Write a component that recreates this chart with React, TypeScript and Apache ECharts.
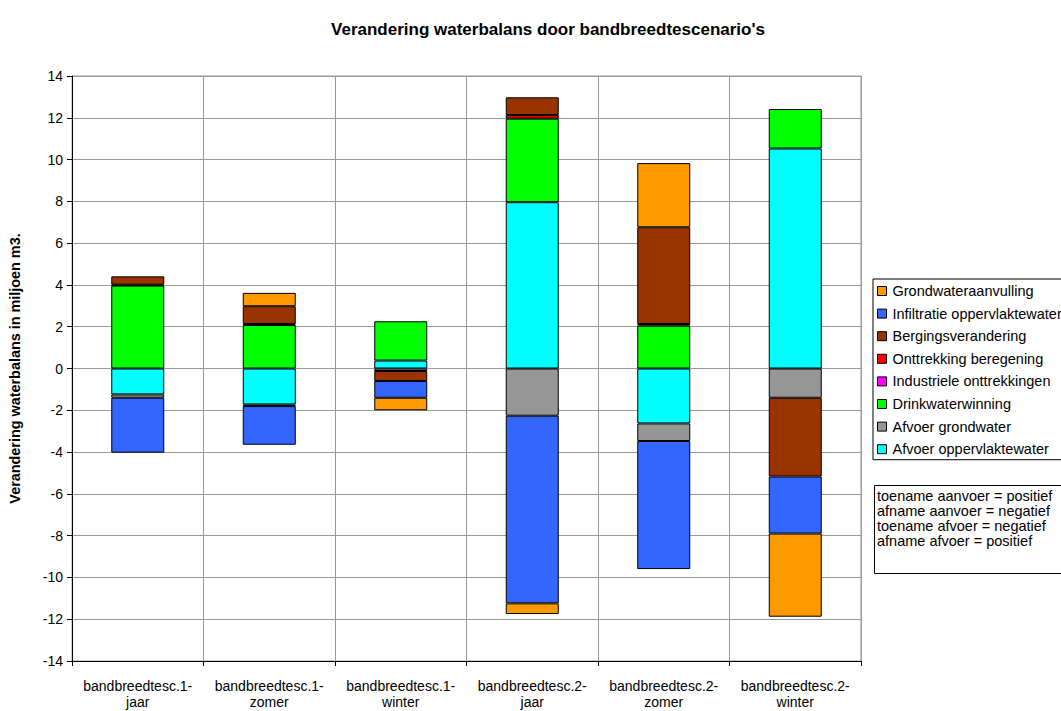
import React, { useEffect, useRef } from "react";
import * as echarts from "echarts";

const categories = [
  "bandbreedtesc.1-\njaar",
  "bandbreedtesc.1-\nzomer",
  "bandbreedtesc.1-\nwinter",
  "bandbreedtesc.2-\njaar",
  "bandbreedtesc.2-\nzomer",
  "bandbreedtesc.2-\nwinter",
];

// stacking order (first = closest to zero)
const afvoerOppervlaktewater = [-1.24, -1.72, 0.38, 7.96, -2.63, 10.53];
const afvoerGrondwater = [-0.16, -0.08, -0.12, -2.26, -0.84, -1.4];
const drinkwaterwinning = [3.97, 2.08, 1.88, 4.0, 2.05, 1.89];
const industrieleOnttrekkingen = [0, 0, 0, 0, 0, 0];
const onttrekkingBeregening = [0.04, 0.05, 0, 0.17, 0.08, 0];
const bergingsverandering = [0.4, 0.85, -0.48, 0.85, 4.63, -3.77];
const infiltratieOppervlaktewater = [-2.63, -1.85, -0.8, -8.98, -6.13, -2.73];
const grondwateraanvulling = [0, 0.64, -0.6, -0.51, 3.07, -3.98];

const yTicks = { min: -14, max: 14, interval: 2 };

const seriesDefs = [
  { name: "Afvoer oppervlaktewater", data: afvoerOppervlaktewater, color: "#00FFFF" },
  { name: "Afvoer grondwater", data: afvoerGrondwater, color: "#969696" },
  { name: "Drinkwaterwinning", data: drinkwaterwinning, color: "#00FF00" },
  { name: "Industriele onttrekkingen", data: industrieleOnttrekkingen, color: "#FF00FF" },
  { name: "Onttrekking beregening", data: onttrekkingBeregening, color: "#FF0000" },
  { name: "Bergingsverandering", data: bergingsverandering, color: "#993300" },
  { name: "Infiltratie oppervlaktewater", data: infiltratieOppervlaktewater, color: "#3366FF" },
  { name: "Grondwateraanvulling", data: grondwateraanvulling, color: "#FF9900" },
];

const noteLines = [
  "toename aanvoer = positief",
  "afname aanvoer = negatief",
  "toename afvoer = negatief",
  "afname afvoer = positief",
];

const FONT = "Liberation Sans, Arial, sans-serif";

export default function App() {
  const ref = useRef<HTMLDivElement>(null);
  useEffect(() => {
    document.body.style.margin = "0";
    const chart = echarts.init(ref.current!, null, { renderer: "svg" });
    chart.setOption({
      animation: false,
      backgroundColor: "#ffffff",
      textStyle: { fontFamily: FONT },
      title: {
        text: "Verandering waterbalans door bandbreedtescenario's",
        left: 543,
        top: 16,
        textAlign: "center",
        textStyle: { fontFamily: FONT, fontSize: 17, fontWeight: "bold", color: "#000" },
      },
      grid: {
        left: 67,
        top: 76,
        width: 794,
        height: 585,
        show: true,
        borderColor: "#999",
        borderWidth: 1,
        containLabel: false,
      },
      legend: {
        orient: "vertical",
        left: 873,
        top: 279,
        data: seriesDefs.map((s) => s.name).reverse(),
        itemWidth: 9,
        itemHeight: 9,
        itemGap: 7.6,
        icon: "rect",
        borderColor: "#000",
        borderWidth: 1,
        padding: [4.5, 40, 3, 4],
        textStyle: { fontFamily: FONT, fontSize: 14.5, color: "#000", padding: [0, 0, 0, 1] },
        itemStyle: { borderColor: "#000", borderWidth: 1 },
      },
      xAxis: {
        type: "category",
        data: categories,
        position: "bottom",
        axisLine: { onZero: false, lineStyle: { color: "#000", width: 1 } },
        axisTick: { show: true, length: 5, interval: 0, lineStyle: { color: "#000" } },
        axisLabel: {
          interval: 0,
          hideOverlap: false,
          fontFamily: FONT,
          fontSize: 14,
          color: "#000",
          lineHeight: 16,
          margin: 17,
        },
        splitLine: { show: true, interval: 0, lineStyle: { color: "#999", width: 1 } },
      },
      yAxis: {
        type: "value",
        min: yTicks.min,
        max: yTicks.max,
        interval: yTicks.interval,
        name: "Verandering waterbalans in miljoen m3.",
        nameLocation: "middle",
        nameGap: 50,
        nameTextStyle: { fontFamily: FONT, fontSize: 14.4, fontWeight: "bold", color: "#000" },
        axisLine: { show: true, lineStyle: { color: "#000", width: 1 } },
        axisTick: { show: true, length: 5, inside: false, lineStyle: { color: "#000" } },
        axisLabel: { fontFamily: FONT, fontSize: 14, color: "#000", margin: 9 },
        splitLine: { show: true, lineStyle: { color: "#999", width: 1 } },
      },
      series: seriesDefs.map((s) => ({
        name: s.name,
        type: "bar",
        stack: "total",
        data: s.data.map((v) => (v === 0 ? "-" : v)),
        barWidth: 53,
        itemStyle: { color: s.color, borderColor: "#000", borderWidth: 1 },
        emphasis: { disabled: true },
      })),
      graphic: [
        {
          type: "rect",
          shape: { x: 874.5, y: 485.5, width: 200, height: 88 },
          style: { fill: "#fff", stroke: "#000", lineWidth: 1 },
        },
        {
          type: "text",
          x: 877,
          y: 488,
          style: {
            text: noteLines.join("\n"),
            fontFamily: FONT,
            fontSize: 14.5,
            lineHeight: 15,
            fill: "#000",
          },
        },
      ],
    });
    return () => chart.dispose();
  }, []);
  return <div ref={ref} style={{ width: 1061, height: 711 }} />;
}
